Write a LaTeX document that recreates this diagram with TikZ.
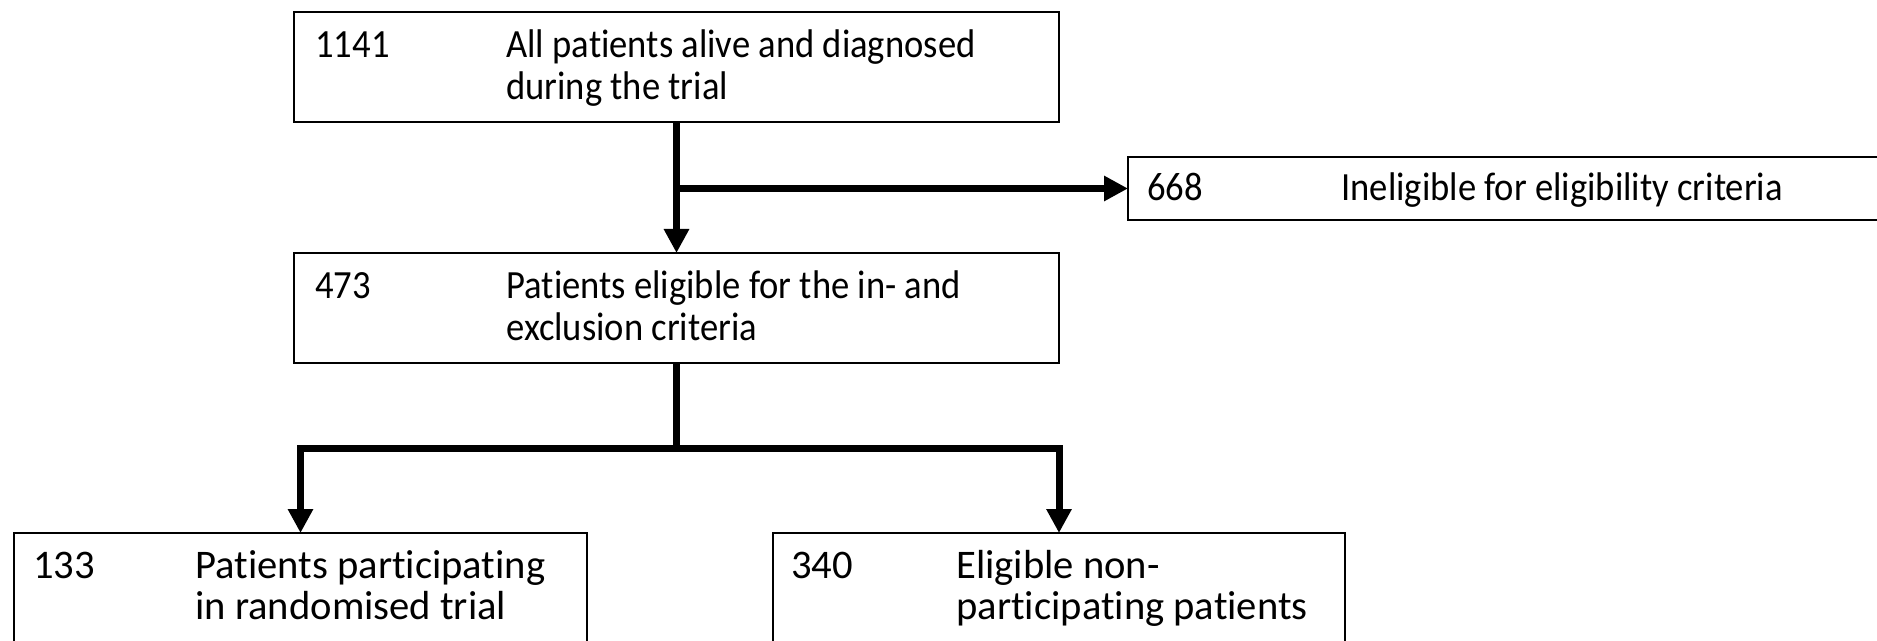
\documentclass[tikz,border=0pt]{standalone}
\usepackage{fontspec}
\setmainfont{Carlito}[Ligatures={NoCommon,NoRequired,NoContextual}]
\newfontfamily\narrowfont{Carlito}[FakeStretch=0.915,Ligatures={NoCommon,NoRequired,NoContextual}]
\usetikzlibrary{arrows.meta}
\begin{document}
\begin{tikzpicture}[x=0.5pt, y=-0.5pt,
  box/.style={draw, line width=1.3pt, inner sep=0pt, outer sep=0pt, anchor=north west},
  txt/.style={anchor=base west, inner sep=0pt, font=\narrowfont\fontsize{20}{23}\selectfont},
  txtbig/.style={anchor=base west, inner sep=0pt, font=\fontsize{20.3}{23}\selectfont},
  flow/.style={line width=3.5pt},
  flowarrow/.style={flow, -{Triangle[length=12pt,width=12pt]}}]
\useasboundingbox (0,0) rectangle (1877,641);
\clip (0,0) rectangle (1877,641);

% boxes
\node[box, minimum width=382.5pt, minimum height=55pt] (top) at (294,12) {};
\node[box, minimum width=386pt, minimum height=31.5pt] (excl) at (1128,157) {};
\node[box, minimum width=382.5pt, minimum height=55pt] (mid) at (294,253) {};
\node[box, minimum width=286.5pt, minimum height=73.5pt] (rand) at (14,533) {};
\node[box, minimum width=286pt, minimum height=73.5pt] (nonp) at (773,533) {};

% texts
\node[txt] (n1) at (315,58) {1141};
\node[txt] (d1a) at (506,58) {All patients alive and diagnosed};
\node[txt] (d1b) at (506,100) {during the trial};

\node[txt] (n2) at (1147,201) {668};
\node[txt] (d2) at (1341,201) {Ineligible for eligibility criteria};

\node[txt] (n3) at (315,299) {473};
\node[txt] (d3a) at (506,299) {Patients eligible for the in- and};
\node[txt] (d3b) at (506,341) {exclusion criteria};

\node[txtbig] (n4) at (33,578) {133};
\node[txtbig] (d4a) at (195,578) {Patients participating};
\node[txtbig] (d4b) at (195,619) {in randomised trial};

\node[txtbig] (n5) at (791,578) {340};
\node[txtbig] (d5a) at (956,578) {Eligible non-};
\node[txtbig] (d5b) at (956,619) {participating patients};

% connectors
\coordinate (split1) at (top.south |- excl.west);
\coordinate (lvl) at (0,448);
\coordinate (split2) at (mid.south |- lvl);

\draw[flowarrow] (top.south) -- (mid.north);
\draw[flowarrow] (split1) -- (excl.west);
\draw[flow] (mid.south) -- (split2);
\draw[flowarrow] (split2) -| (rand.north);
\draw[flowarrow] (split2) -| (nonp.north);
\end{tikzpicture}
\end{document}
